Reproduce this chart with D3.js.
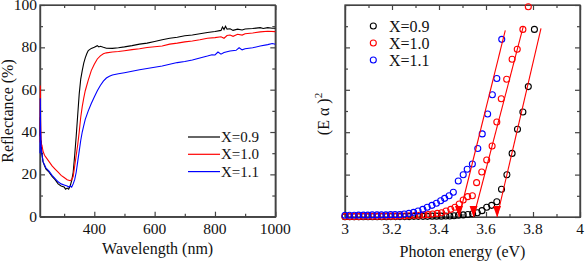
<!DOCTYPE html>
<html>
<head>
<meta charset="utf-8">
<script src="https://cdnjs.cloudflare.com/ajax/libs/d3/7.8.5/d3.min.js"></script>
<style>
  body { margin: 0; background: #fff; }
  svg text, svg tspan { font-family: 'Liberation Serif', serif !important; }
</style>
</head>
<body>
<script>
// ---- left panel: reflectance spectra ----
const wlBlack = [220, 221, 222, 224, 226, 230, 235, 240, 250, 260, 270, 280, 290, 300, 305, 310, 315, 320, 325, 330, 335, 340, 345, 350, 355, 360, 365, 370, 375, 380, 390, 400, 410, 415, 420, 430, 440, 460, 480, 500, 525, 550, 575, 600, 625, 650, 675, 700, 725, 750, 775, 800, 820, 825, 830, 835, 840, 850, 860, 875, 890, 900, 925, 950, 960, 975, 990, 1000];
const rBlack = [38, 47, 33, 36, 30, 26, 24, 22.5, 21, 19, 17.5, 15.5, 14.5, 14, 13, 13.5, 13, 14.5, 17, 21, 29, 38, 48, 58, 65, 69, 72.5, 75, 77, 78.5, 79.5, 80, 80.8, 80.2, 80.5, 80, 79.6, 79.5, 79.8, 80.2, 80.8, 81.5, 82, 82.8, 83.6, 84.3, 84.8, 85.5, 85.8, 86.4, 87, 87.5, 88, 89.6, 88.4, 90, 88.6, 88.8, 88, 88.6, 88.2, 88.7, 88.9, 89.3, 88.9, 89.3, 89, 89];

const wlRed = [220, 221, 222, 224, 226, 230, 235, 240, 250, 260, 270, 280, 290, 300, 310, 320, 325, 330, 335, 340, 345, 350, 355, 360, 365, 370, 380, 390, 400, 410, 420, 430, 440, 460, 480, 500, 525, 550, 575, 600, 625, 650, 675, 700, 725, 750, 775, 800, 820, 830, 840, 850, 860, 875, 890, 900, 925, 950, 975, 1000];
const rRed = [35, 62, 45, 33, 34, 31, 29, 28, 26, 24, 22.5, 21, 19.5, 18.5, 17.5, 17, 17.5, 19, 24, 29, 34, 40, 47, 52, 56, 59.5, 64.5, 69, 72, 74.5, 76, 77, 77.4, 77.8, 78, 78.4, 78.9, 79.3, 79.9, 80.3, 80.6, 81.5, 82, 82.6, 83, 83.6, 84.3, 84.6, 85, 84.3, 85.6, 85.8, 85.2, 86.2, 85.8, 86.4, 86.8, 87.3, 87.6, 87.4];

const wlBlue = [220, 221, 222, 224, 226, 230, 235, 240, 250, 260, 270, 280, 290, 300, 310, 315, 320, 325, 330, 335, 340, 345, 350, 355, 360, 365, 370, 380, 390, 400, 410, 420, 430, 440, 450, 460, 480, 500, 525, 550, 575, 600, 625, 650, 675, 700, 725, 750, 775, 790, 800, 810, 820, 830, 850, 870, 880, 890, 900, 925, 950, 975, 990, 1000];
const rBlue = [30, 56, 40, 32, 30, 26, 24.5, 23, 21.5, 19.5, 18, 16.5, 15.5, 15, 14.5, 14, 14.5, 14, 15.5, 17.5, 21, 26, 31, 36, 40, 43, 46, 50, 53.5, 56.5, 59.5, 62, 64, 65.5, 66.3, 66.9, 67.5, 68, 68.7, 69.4, 70, 70.6, 71.2, 72, 72.8, 73.3, 74, 75, 75.9, 76.5, 76.4, 77.8, 76.8, 77.6, 78.3, 78.6, 79.8, 78.8, 79.3, 79.8, 80.6, 81.3, 81.8, 81.5];

const legendLabels = ['X=0.9', 'X=1.0', 'X=1.1'];
const colors = ['#000', '#f00', '#00f'];

// ---- right panel: (E alpha)^2 vs photon energy ----
const eBlack = [3.000, 3.020, 3.039, 3.059, 3.078, 3.098, 3.117, 3.137, 3.156, 3.176, 3.195, 3.215, 3.234, 3.254, 3.273, 3.293, 3.312, 3.332, 3.351, 3.371, 3.390, 3.410, 3.429, 3.446, 3.464, 3.483, 3.503, 3.523, 3.543, 3.563, 3.583, 3.603, 3.624, 3.646, 3.666, 3.689, 3.711, 3.734, 3.757, 3.780, 3.806];
const aBlack = [0.1, 0.1, 0.1, 0.1, 0.1, 0.1, 0.1, 0.1, 0.1, 0.1, 0.2, 0.2, 0.2, 0.2, 0.2, 0.3, 0.3, 0.3, 0.3, 0.4, 0.4, 0.4, 0.5, 0.5, 0.6, 0.8, 1.0, 1.2, 1.5, 2.0, 3.0, 4.6, 5.5, 7.2, 13.1, 19.9, 30.0, 41.4, 49.5, 61.5, 88.5];

const eRed = [3.000, 3.020, 3.039, 3.059, 3.078, 3.098, 3.117, 3.137, 3.156, 3.176, 3.195, 3.215, 3.234, 3.254, 3.273, 3.297, 3.317, 3.336, 3.354, 3.373, 3.393, 3.411, 3.430, 3.450, 3.468, 3.486, 3.503, 3.522, 3.542, 3.560, 3.582, 3.603, 3.626, 3.646, 3.665, 3.688, 3.711, 3.733, 3.757, 3.780];
const aRed = [0.2, 0.2, 0.2, 0.2, 0.3, 0.3, 0.3, 0.3, 0.3, 0.4, 0.4, 0.4, 0.5, 0.5, 0.6, 0.7, 0.8, 1.0, 1.1, 1.4, 1.7, 2.0, 2.8, 3.6, 4.6, 6.1, 8.0, 9.6, 10.0, 16.2, 21.2, 26.9, 33.5, 44.8, 55.8, 65.0, 74.4, 79.1, 88.5, 99.2];

const eBlue = [3.000, 3.019, 3.039, 3.058, 3.078, 3.097, 3.116, 3.136, 3.155, 3.174, 3.194, 3.213, 3.233, 3.252, 3.272, 3.292, 3.311, 3.331, 3.350, 3.370, 3.389, 3.407, 3.424, 3.443, 3.461, 3.482, 3.503, 3.520, 3.542, 3.565, 3.584, 3.607, 3.627, 3.646, 3.667];
const aBlue = [0.8, 0.8, 0.8, 0.9, 0.9, 0.9, 1.0, 1.0, 1.0, 1.0, 1.1, 1.1, 1.1, 1.4, 1.7, 2.2, 2.8, 3.6, 4.6, 5.5, 6.5, 7.7, 8.8, 10.0, 11.7, 17.0, 19.9, 22.5, 25.0, 32.3, 39.2, 48.6, 57.7, 65.3, 83.8];

// linear fits: x-intercept and upper end
const fitE0 = [3.485, 3.547, 3.647];
const fitE1 = [3.682, 3.759, 3.834];
const fitA1 = [88, 90, 89];

const svg = d3.select('body').append('svg')
	.attr('width', 587)
	.attr('height', 268)
	.attr('font-family', 'Liberation Serif');

const xL = d3.scaleLinear().domain([220, 1000]).range([40, 275.3]);
const yL = d3.scaleLinear().domain([0, 100]).range([216.7, 5]);
const xR = d3.scaleLinear().domain([3, 4]).range([345, 580]);
const yR = d3.scaleLinear().domain([0, 100]).range([217, 5]);

const frameColor = '#444';

function addText(x, y, str, size, anchor) {
	return svg.append('text')
		.attr('x', x).attr('y', y)
		.attr('font-family', 'Liberation Serif')
		.attr('font-size', size)
		.attr('fill', '#111')
		.attr('text-anchor', anchor || 'start')
		.text(str);
}

// ticks pointing inward on every side
function drawFrame(x, y, xMajor, xMinor, yMajor, yMinor, xFmt, yFmt) {
	const g = svg.append('g');
	const [x0, x1] = x.range();
	const [y0, y1] = y.range();
	const sides = [
		{ axis: d3.axisBottom(x), t: `translate(0,${y0})`, ticks: xMajor, minor: xMinor },
		{ axis: d3.axisTop(x), t: `translate(0,${y1})`, ticks: xMajor, minor: xMinor },
		{ axis: d3.axisLeft(y), t: `translate(${x0},0)`, ticks: yMajor, minor: yMinor },
		{ axis: d3.axisRight(y), t: `translate(${x1},0)`, ticks: yMajor, minor: yMinor }
	];
	sides.forEach(s => {
		g.append('g').attr('transform', s.t)
			.call(s.axis.tickValues(s.minor).tickSizeInner(-3).tickSizeOuter(0).tickFormat(''));
		g.append('g').attr('transform', s.t)
			.call(s.axis.tickValues(s.ticks).tickSizeInner(-5).tickSizeOuter(0).tickFormat(''));
	});
	g.selectAll('text').remove();
	g.selectAll('path, line').attr('stroke', frameColor).attr('stroke-width', 1.2);
	g.append('rect')
		.attr('x', x0).attr('y', y1)
		.attr('width', x1 - x0).attr('height', y0 - y1)
		.attr('fill', 'none').attr('stroke', frameColor).attr('stroke-width', 1.3);

	if (xFmt) {
		xMajor.forEach(d => addText(x(d), y0 + 17, xFmt(d), 15.5, 'middle'));
	}
	if (yFmt) {
		yMajor.forEach(d => addText(x0 - 3, y(d) + 5, yFmt(d), 15.5, 'end'));
	}
}

// left panel
drawFrame(xL, yL, [400, 600, 800, 1000], [300, 500, 700, 900],
	[0, 20, 40, 60, 80, 100], [10, 30, 50, 70, 90], d => d, d => d);

const lineL = d3.line().x(d => xL(d[0])).y(d => yL(d[1]));
const spectra = [[wlBlack, rBlack], [wlRed, rRed], [wlBlue, rBlue]];
spectra.forEach((s, i) => {
	svg.append('path')
		.datum(s[0].map((w, j) => [w, s[1][j]]))
		.attr('d', lineL)
		.attr('fill', 'none')
		.attr('stroke', colors[i])
		.attr('stroke-width', 1.1);
});

legendLabels.forEach((lab, i) => {
	const yy = 137 + i * 17.3;
	svg.append('line').attr('x1', 188).attr('x2', 220).attr('y1', yy).attr('y2', yy)
		.attr('stroke', colors[i]).attr('stroke-width', 1.2);
	addText(221, yy + 5, lab, 15);
});

addText(xL(610), 254, 'Wavelength (nm)', 16, 'middle');
addText(0, 0, 'Reflectance (%)', 16, 'middle')
	.attr('transform', 'translate(13,111) rotate(-90)');

// right panel
drawFrame(xR, yR, [3, 3.2, 3.4, 3.6, 3.8, 4], [3.1, 3.3, 3.5, 3.7, 3.9],
	[0, 20, 40, 60, 80, 100], [10, 30, 50, 70, 90], d => d3.format('~g')(d), null);

const points = [[eBlack, aBlack], [eRed, aRed], [eBlue, aBlue]];
points.forEach((s, i) => {
	svg.append('g').selectAll('circle')
		.data(s[0].map((e, j) => [e, s[1][j]]))
		.enter().append('circle')
		.attr('cx', d => xR(d[0]))
		.attr('cy', d => yR(d[1]))
		.attr('r', 3)
		.attr('fill', 'none')
		.attr('stroke', colors[i])
		.attr('stroke-width', 1.1);
});

fitE0.forEach((e0, i) => {
	svg.append('line')
		.attr('x1', xR(e0)).attr('y1', yR(0))
		.attr('x2', xR(fitE1[i])).attr('y2', yR(fitA1[i]))
		.attr('stroke', '#f00').attr('stroke-width', 1.1);
	const tx = xR(e0), ty = yR(0);
	svg.append('path')
		.attr('d', `M${tx},${ty} L${tx - 4},${ty - 11} L${tx + 4},${ty - 11} Z`)
		.attr('fill', '#f00');
});

legendLabels.forEach((lab, i) => {
	const yy = 26 + i * 17;
	svg.append('circle').attr('cx', 373.3).attr('cy', yy).attr('r', 3)
		.attr('fill', 'none').attr('stroke', colors[i]).attr('stroke-width', 1.1);
	addText(389, yy + 5.5, lab, 16);
});

addText(xR(3.5), 257, 'Photon energy (eV)', 16, 'middle');

const yt = addText(0, 0, '', 16, 'middle')
	.attr('transform', 'translate(329,114) rotate(-90)');
yt.append('tspan').text('(E \u03b1 )');
yt.append('tspan').attr('dy', -7).attr('font-size', 11).text('2');
</script>
</body>
</html>
